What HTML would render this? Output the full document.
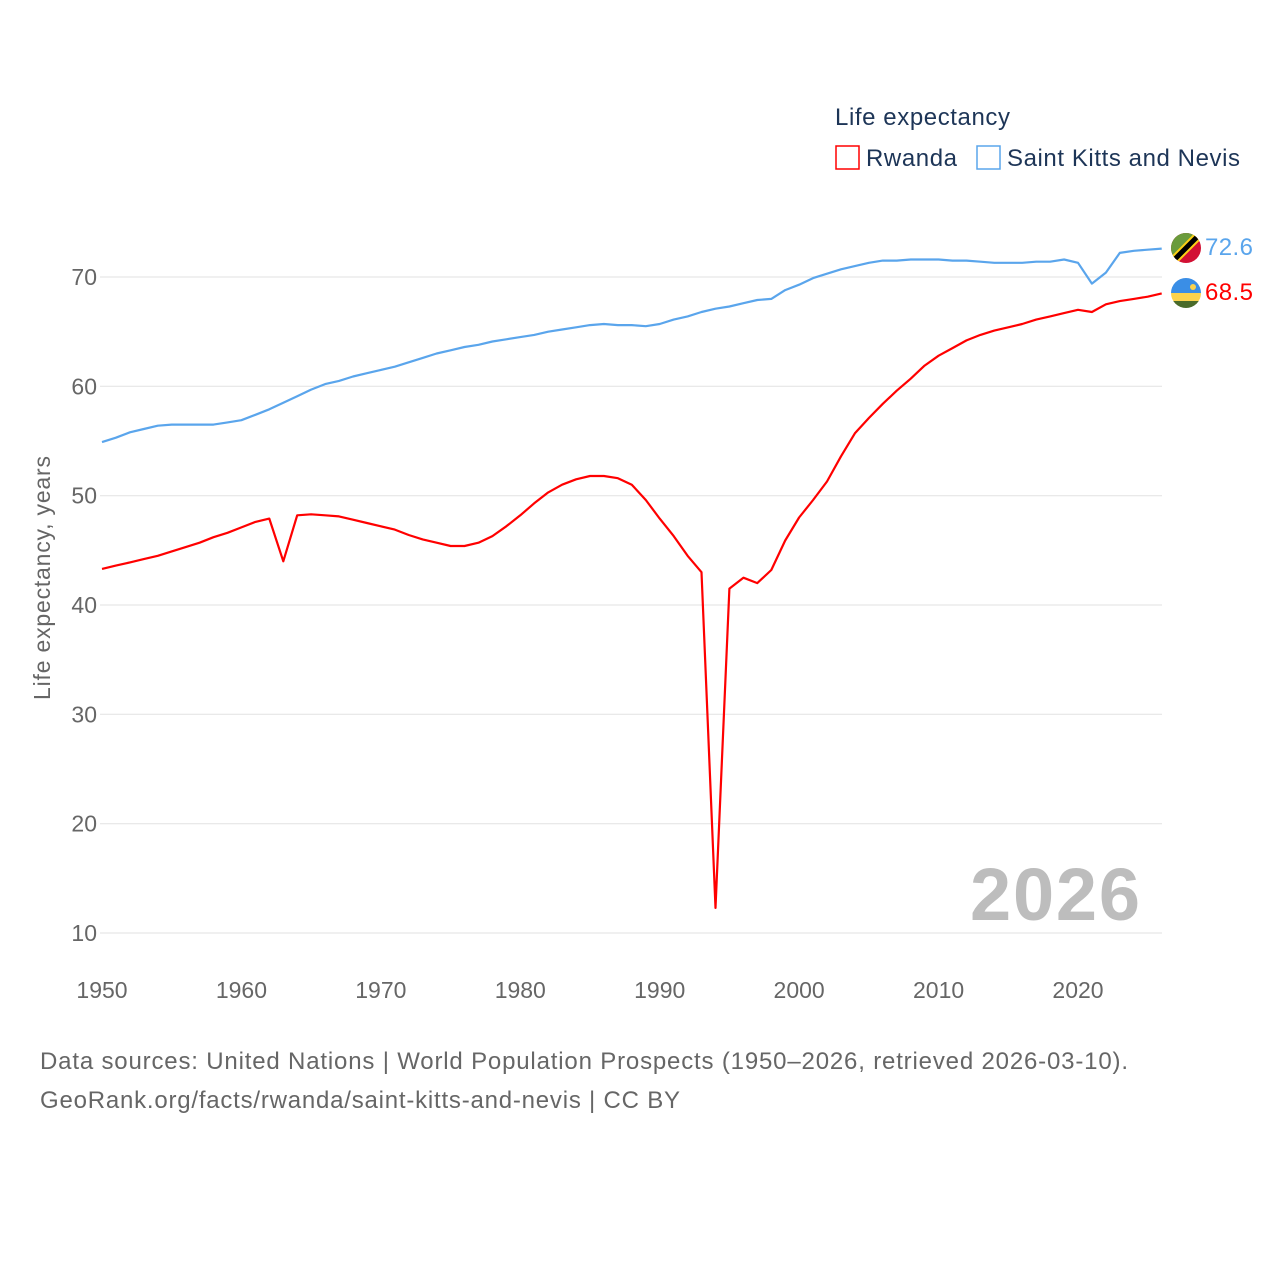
<!DOCTYPE html>
<html><head><meta charset="utf-8"><style>
body{margin:0;background:#fff;}
svg text{font-family:"Liberation Sans",sans-serif;}
</style></head><body>
<svg width="1280" height="1280" viewBox="0 0 1280 1280" xmlns="http://www.w3.org/2000/svg">
<g id="grid"></g>
<g id="ylabels"></g>
<g id="xlabels"></g>
<text x="50" y="578" transform="rotate(-90 50 578)" text-anchor="middle" font-size="23" fill="#666" textLength="244">Life expectancy, years</text>
<text x="1140" y="920" text-anchor="end" font-size="74" font-weight="bold" fill="#bdbdbd" textLength="170">2026</text>
<g id="series"></g>
<text x="835" y="125" font-size="24" fill="#1d3557" textLength="175">Life expectancy</text>
<g><rect x="836" y="146" width="23" height="23" fill="none" stroke="#ff0000" stroke-width="1.5"/><text x="866" y="166" font-size="24" fill="#1d3557" textLength="91">Rwanda</text></g>
<g><rect x="977" y="146" width="23" height="23" fill="none" stroke="#5aa5ec" stroke-width="1.5"/><text x="1007" y="166" font-size="24" fill="#1d3557" textLength="233">Saint Kitts and Nevis</text></g>
<g>
<clipPath id="c1"><circle cx="1186" cy="248" r="15"/></clipPath>
<g clip-path="url(#c1)"><rect x="1170" y="232" width="32" height="32" fill="#d21034"/><polygon points="1170,232 1202,232 1170,264" fill="#6a9b3c"/><line x1="1170" y1="264" x2="1202" y2="232" stroke="#fcd116" stroke-width="9"/><line x1="1170" y1="264" x2="1202" y2="232" stroke="#000" stroke-width="5"/></g></g>
<g>
<clipPath id="c2"><circle cx="1186" cy="293" r="15"/></clipPath>
<g clip-path="url(#c2)"><rect x="1170" y="277" width="32" height="16" fill="#3a8ee6"/><rect x="1170" y="293" width="32" height="8" fill="#fcd34d"/><rect x="1170" y="301" width="32" height="8" fill="#4a6b2a"/><circle cx="1193" cy="287" r="3" fill="#fcd34d"/></g></g>
<text x="1205" y="255" font-size="24" fill="#5aa5ec" textLength="48">72.6</text>
<text x="1205" y="300" font-size="24" fill="#ff0000" textLength="48">68.5</text>
<text x="40" y="1069" font-size="24" fill="#666" textLength="1088">Data sources: United Nations | World Population Prospects (1950–2026, retrieved 2026-03-10).</text>
<text x="40" y="1108" font-size="24" fill="#666" textLength="640">GeoRank.org/facts/rwanda/saint-kitts-and-nevis | CC BY</text>
</svg>
<script>
const startYear = 1950;
const yTicks = [10,20,30,40,50,60,70];
const xTicks = [1950,1960,1970,1980,1990,2000,2010,2020];
const rwanda = [43.3,43.6,43.9,44.2,44.5,44.9,45.3,45.7,46.2,46.6,47.1,47.6,47.9,44.0,48.2,48.3,48.2,48.1,47.8,47.5,47.2,46.9,46.4,46.0,45.7,45.4,45.4,45.7,46.3,47.2,48.2,49.3,50.3,51.0,51.5,51.8,51.8,51.6,51.0,49.6,47.9,46.3,44.5,43.0,12.3,41.5,42.5,42.0,43.2,45.9,48.0,49.6,51.3,53.6,55.7,57.1,58.4,59.6,60.7,61.9,62.8,63.5,64.2,64.7,65.1,65.4,65.7,66.1,66.4,66.7,67.0,66.8,67.5,67.8,68.0,68.2,68.5];
const skn = [54.9,55.3,55.8,56.1,56.4,56.5,56.5,56.5,56.5,56.7,56.9,57.4,57.9,58.5,59.1,59.7,60.2,60.5,60.9,61.2,61.5,61.8,62.2,62.6,63.0,63.3,63.6,63.8,64.1,64.3,64.5,64.7,65.0,65.2,65.4,65.6,65.7,65.6,65.6,65.5,65.7,66.1,66.4,66.8,67.1,67.3,67.6,67.9,68.0,68.8,69.3,69.9,70.3,70.7,71.0,71.3,71.5,71.5,71.6,71.6,71.6,71.5,71.5,71.4,71.3,71.3,71.3,71.4,71.4,71.6,71.3,69.4,70.4,72.2,72.4,72.5,72.6];
const NS='http://www.w3.org/2000/svg';
function xs(yr){return 102+(yr-1950)*(976/70);}
function ys(v){return 933-(v-10)*(656/60);}
const grid=document.getElementById('grid'),yl=document.getElementById('ylabels'),xl=document.getElementById('xlabels'),ser=document.getElementById('series');
yTicks.forEach(t=>{
 const l=document.createElementNS(NS,'line');
 
 
 l.setAttribute('x1',100);l.setAttribute('x2',1162);l.setAttribute('y1',ys(t));l.setAttribute('y2',ys(t));
 l.setAttribute('stroke','#e6e6e6');l.setAttribute('stroke-width','1.2');grid.appendChild(l);
 const tx=document.createElementNS(NS,'text');
 
 
 tx.setAttribute('x',97);tx.setAttribute('y',ys(t)+8);tx.setAttribute('text-anchor','end');tx.setAttribute('font-size','23');tx.setAttribute('fill','#666');tx.textContent=t;yl.appendChild(tx);
});
xTicks.forEach(t=>{
 const tx=document.createElementNS(NS,'text');
 
 
 tx.setAttribute('x',xs(t));tx.setAttribute('y',998);tx.setAttribute('text-anchor','middle');tx.setAttribute('font-size','23');tx.setAttribute('fill','#666');tx.textContent=t;xl.appendChild(tx);
});
function line(arr,color,name){
 const p=document.createElementNS(NS,'polyline');
 
 
 p.setAttribute('points',arr.map((v,i)=>xs(startYear+i).toFixed(1)+','+ys(v).toFixed(1)).join(' '));
 p.setAttribute('fill','none');p.setAttribute('stroke',color);p.setAttribute('stroke-width','2.2');p.setAttribute('stroke-linejoin','round');
 ser.appendChild(p);
}
line(skn,'#5aa5ec','line-saint-kitts-and-nevis');
line(rwanda,'#ff0000','line-rwanda');
</script>
</body></html>
